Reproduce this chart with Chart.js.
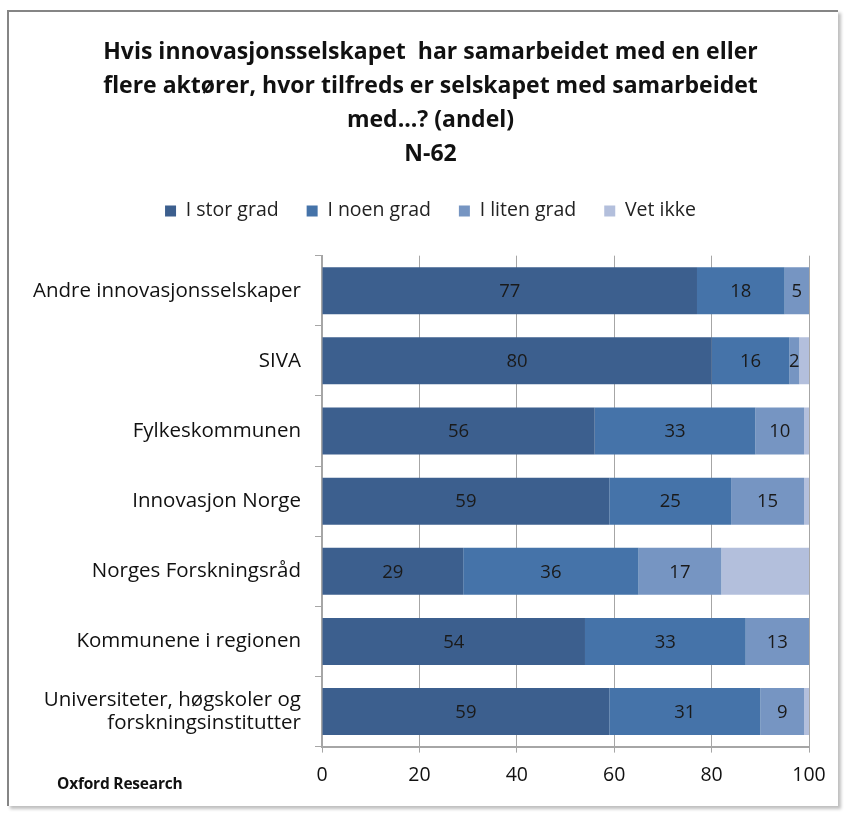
<!DOCTYPE html>
<html>
<head>
<meta charset="utf-8">
<script src="https://cdn.jsdelivr.net/npm/chart.js@4.4.1/dist/chart.umd.min.js"></script>
<style>
  html, body { margin: 0; padding: 0; background: #fff; }
  #wrap { position: relative; width: 844px; height: 818px; overflow: hidden; }
  #frame { position: absolute; left: 7px; top: 10px; width: 829px; height: 794px;
           border-left: 2px solid #858585; border-top: 2px solid #858585;
           box-shadow: 3px 3px 3px rgba(0,0,0,0.25); pointer-events: none; }
  #c { position: absolute; left: 0; top: 0; }
  #src { position: absolute; left: 57px; top: 772px; font-family: 'Open Sans', sans-serif;
         font-size: 15.5px; font-weight: bold; color: #111; letter-spacing: -0.2px; }
</style>
</head>
<body>
<div id="wrap">
  <canvas id="c" width="844" height="818"></canvas>
  <div id="frame"></div>
  <div id="src">Oxford Research</div>
</div>
<script>
const titleLines = ['Hvis innovasjonsselskapet  har samarbeidet med en eller',
                    'flere aktører, hvor tilfreds er selskapet med samarbeidet',
                    'med...? (andel)', 'N-62'];
const categories = ['Andre innovasjonsselskaper', 'SIVA', 'Fylkeskommunen', 'Innovasjon Norge',
                    'Norges Forskningsråd', 'Kommunene i regionen',
                    ['Universiteter, høgskoler og', 'forskningsinstitutter']];
const seriesNames = ['I stor grad', 'I noen grad', 'I liten grad', 'Vet ikke'];
const iStorGrad  = [77, 80, 56, 59, 29, 54, 59];
const iNoenGrad  = [18, 16, 33, 25, 36, 33, 31];
const iLitenGrad = [5, 2, 10, 15, 17, 13, 9];
const vetIkke    = [0, 2, 1, 1, 18, 0, 1];
const xTicks = [0, 20, 40, 60, 80, 100];

const colors = ['#3C5F8E', '#4573A9', '#7695C2', '#B3BFDC'];
const FONT = "'Open Sans', sans-serif";

const valueLabels = {
  id: 'valueLabels',
  afterDatasetsDraw(chart) {
    const ctx = chart.ctx;
    ctx.save();
    ctx.font = '18.5px ' + FONT;
    ctx.fillStyle = '#1a1a1a';
    ctx.textAlign = 'center';
    ctx.textBaseline = 'middle';
    chart.data.datasets.forEach((ds, di) => {
      if (!ds.showLabels) return;
      const meta = chart.getDatasetMeta(di);
      meta.data.forEach((el, i) => {
        const v = ds.data[i];
        if (!v) return;
        ctx.fillText(String(v), (el.x + el.base) / 2, el.y + 1);
      });
    });
    ctx.restore();
  }
};

// extra gap under the legend, and a horizontal shift of the title and legend blocks
const headerTweaks = {
  id: 'headerTweaks',
  beforeInit(chart) {
    const lg = chart.legend;
    const origFit = lg.fit;
    lg.fit = function () { origFit.call(this); this.height += 25; };
    [chart.titleBlock, lg].forEach(b => {
      const od = b.draw;
      b.draw = function () {
        const c = this.ctx; c.save(); c.translate(26, 0); od.call(this); c.restore();
      };
    });
  }
};

new Chart(document.getElementById('c'), {
  type: 'bar',
  data: {
    labels: categories,
    datasets: [
      { label: seriesNames[0], data: iStorGrad, backgroundColor: colors[0], showLabels: true },
      { label: seriesNames[1], data: iNoenGrad, backgroundColor: colors[1], showLabels: true },
      { label: seriesNames[2], data: iLitenGrad, backgroundColor: colors[2], showLabels: true },
      { label: seriesNames[3], data: vetIkke, backgroundColor: colors[3], showLabels: false }
    ]
  },
  options: {
    indexAxis: 'y',
    responsive: false,
    animation: false,
    devicePixelRatio: 1,
    datasets: { bar: { categoryPercentage: 1, barPercentage: 0.67, borderWidth: 0 } },
    layout: { padding: { left: 0, right: 35, top: 0, bottom: 20 } },
    plugins: {
      title: {
        display: true, text: titleLines, color: '#111',
        font: { family: FONT, size: 23, weight: 'bold', lineHeight: 1.48 },
        padding: { top: 35, bottom: 2 }
      },
      legend: {
        display: true, position: 'top',
        labels: { boxWidth: 11, boxHeight: 11, padding: 28, color: '#222',
                  font: { family: FONT, size: 19.5 } }
      },
      tooltip: { enabled: false }
    },
    scales: {
      x: {
        stacked: true, min: 0, max: 100,
        afterBuildTicks(s) { s.ticks = xTicks.map(v => ({ value: v })); },
        grid: { color: '#A6A6A6', lineWidth: 1, drawOnChartArea: true, tickLength: 6 },
        border: { color: '#A6A6A6', width: 2 },
        ticks: { color: '#111', padding: 11, font: { family: FONT, size: 19.5 } }
      },
      y: {
        stacked: true,
        afterFit(s) { s.width = 322; s.paddingTop = 0; s.paddingBottom = 0; },
        grid: { display: true, drawOnChartArea: false, offset: true, color: '#A6A6A6', tickLength: 7 },
        border: { color: '#A6A6A6', width: 2 },
        ticks: { color: '#111', padding: 14, font: { family: FONT, size: 20.5, lineHeight: 1.15 } }
      }
    }
  },
  plugins: [valueLabels, headerTweaks]
});
</script>
</body>
</html>
